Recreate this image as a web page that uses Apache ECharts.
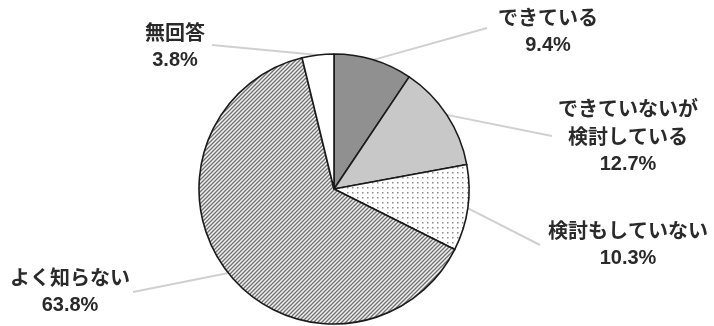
<!DOCTYPE html>
<html><head><meta charset="utf-8">
<script src="https://cdn.jsdelivr.net/npm/echarts@6/dist/echarts.min.js"></script>
<style>html,body{margin:0;padding:0;background:#fff}#c{width:714px;height:326px}</style>
</head><body><div id="c"></div>
<script>
const categories = ['できている', 'できていないが\n検討している', '検討もしていない', 'よく知らない', '無回答'];
const values = [9.4, 12.7, 10.3, 63.8, 3.8];

// label anchors (center of text block) and leader-line endpoints
const labelCenters = [[548, 31], [628, 136], [628, 244], [70, 291], [175, 46]];
const lineEnds = [[487, 28], [552, 136], [540, 245], [133, 292], [212, 45]];

function makeDots() {
  const c = document.createElement('canvas'); c.width = 5; c.height = 5;
  const g = c.getContext('2d');
  g.fillStyle = '#fff'; g.fillRect(0, 0, 5, 5);
  g.fillStyle = '#8a8a8a'; g.fillRect(2, 2, 1.5, 1.5);
  return c;
}
function makeHatch() {
  const s = 4;
  const c = document.createElement('canvas'); c.width = s; c.height = s;
  const g = c.getContext('2d');
  g.fillStyle = '#f2f2f2'; g.fillRect(0, 0, s, s);
  g.strokeStyle = '#707070'; g.lineWidth = 1.3;
  g.beginPath();
  g.moveTo(-1, s + 1); g.lineTo(s + 1, -1);
  g.moveTo(-1, 1); g.lineTo(1, -1);
  g.moveTo(s - 1, s + 1); g.lineTo(s + 1, s - 1);
  g.stroke();
  return c;
}
const fills = ['#909090', '#c8c8c8', {image: makeDots(), repeat: 'repeat'}, {image: makeHatch(), repeat: 'repeat'}, '#ffffff'];

const chart = echarts.init(document.getElementById('c'), null, {renderer: 'canvas'});
chart.setOption({
  animation: false,
  series: [{
    type: 'pie',
    center: [334, 189],
    radius: 135,
    startAngle: 90,
    clockwise: true,
    data: categories.map((n, i) => ({
      name: n, value: values[i],
      itemStyle: {color: fills[i], borderColor: '#1a1a1a', borderWidth: 1.6}
    })),
    label: {
      show: true,
      formatter: p => p.name.split('\n').map(s => '{n|' + s + '}').join('\n') + '\n{v|' + p.value.toFixed(1) + '%}',
      rich: {
        n: {fontFamily: 'Noto Sans CJK JP', fontSize: 20, fontWeight: 'bold', lineHeight: 28, color: '#2a2a2a', align: 'center'},
        v: {fontFamily: 'Liberation Sans Narrow, Liberation Sans, Arial', fontSize: 20, fontWeight: 'bold', lineHeight: 27, color: '#2a2a2a', align: 'center'}
      }
    },
    labelLine: {show: true, lineStyle: {color: '#d0d0d0', width: 2}},
    labelLayout: function (p) {
      const i = p.dataIndex;
      const start = p.labelLinePoints ? p.labelLinePoints[0] : null;
      const res = {x: labelCenters[i][0], y: labelCenters[i][1], align: 'center', verticalAlign: 'middle'};
      if (start) res.labelLinePoints = [start, start, lineEnds[i]];
      return res;
    },
    emphasis: {disabled: true}
  }]
});
</script></body></html>
